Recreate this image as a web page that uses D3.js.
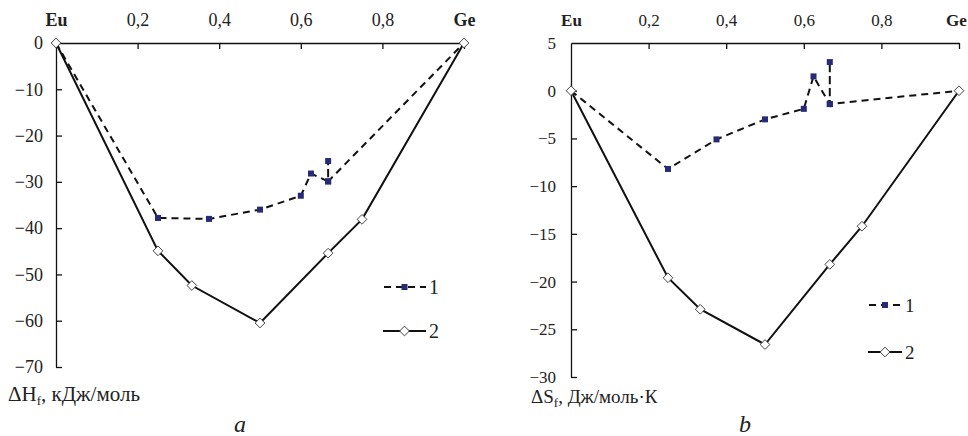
<!DOCTYPE html>
<html>
<head>
  <meta charset="utf-8">
  <script src="https://d3js.org/d3.v7.min.js"></script>
  <style>
    body { margin: 0; background: #fff; }
    svg { display: block; font-family: "Liberation Serif", "Times New Roman", serif; }
    .axis path, .axis line { stroke: #111; stroke-width: 1.3; }
    .axis text { fill: #222; }
  </style>
</head>
<body>
<svg id="chart" width="968" height="436"></svg>
<script>
  // x tick labels (mole fraction Ge)
  const xTicks = [0, 0.2, 0.4, 0.6, 0.8, 1];
  const xTickLabels = ["Eu", "0,2", "0,4", "0,6", "0,8", "Ge"];

  // panel a: enthalpy of formation, kJ/mol
  // series 1 visits x=0.667 twice to draw the short vertical branch
  const dh1 = [[0, 0], [0.25, -37.8], [0.375, -38.0], [0.5, -36.0], [0.6, -33.0], [0.625, -28.2],
               [0.667, -29.9], [0.667, -25.5], [0.667, -29.9], [1, 0]];
  const dh2 = [[0, 0], [0.25, -44.9], [0.333, -52.4], [0.5, -60.5], [0.667, -45.4], [0.75, -38.1], [1, 0]];
  const dhTicks = [0, -10, -20, -30, -40, -50, -60, -70];

  // panel b: entropy of formation, J/mol K
  const ds1 = [[0, 0], [0.25, -8.2], [0.375, -5.1], [0.5, -3.0], [0.6, -1.9], [0.625, 1.5],
               [0.667, -1.4], [0.667, 3.0], [0.667, -1.4], [1, 0]];
  const ds2 = [[0, 0], [0.25, -19.6], [0.333, -22.9], [0.5, -26.6], [0.667, -18.2], [0.75, -14.2], [1, 0]];
  const dsTicks = [5, 0, -5, -10, -15, -20, -25, -30];

  const svg = d3.select("#chart");
  const navy = "#262b78";
  const serif = "'Liberation Serif', 'Times New Roman', serif";

  function panel(cfg) {
    const x = d3.scaleLinear().domain([0, 1]).range(cfg.xr);
    const y = d3.scaleLinear().domain(cfg.yd).range(cfg.yr);
    const g = svg.append("g");

    // top axis, ticks pointing in
    const xa = g.append("g").attr("class", "axis")
      .attr("transform", `translate(0,${cfg.yr[1]})`)
      .call(d3.axisTop(x).tickValues(xTicks).tickSizeInner(-6).tickSizeOuter(0).tickPadding(17)
        .tickFormat((d, i) => xTickLabels[i]));
    xa.attr("font-family", serif).attr("font-size", cfg.fs);
    xa.selectAll("text")
      .attr("font-weight", (d, i) => (i === 0 || i === 5) ? "bold" : null)
      .attr("dx", (d, i) => i === 5 ? cfg.geDx : 0);
    xa.selectAll(".tick").filter(d => d === 0).select("line").remove();

    const ya = g.append("g").attr("class", "axis")
      .attr("transform", `translate(${cfg.xr[0]},0)`)
      .call(d3.axisLeft(y).tickValues(cfg.yt).tickSizeInner(-6).tickSizeOuter(0).tickPadding(cfg.pad)
        .tickFormat(d3.format("d")));
    ya.attr("font-family", serif).attr("font-size", cfg.fs);
    ya.selectAll(".tick").filter(d => d === cfg.yd[1]).select("line").remove();

    const line = d3.line().x(d => x(d[0])).y(d => y(d[1]));

    g.append("path").datum(cfg.s1).attr("d", line)
      .attr("fill", "none").attr("stroke", "#111").attr("stroke-width", 2).attr("stroke-dasharray", "7,5");
    g.append("path").datum(cfg.s2).attr("d", line)
      .attr("fill", "none").attr("stroke", "#111").attr("stroke-width", 2);

    g.selectAll(".sq").data(cfg.s1.slice(1, -1)).join("rect")
      .attr("x", d => x(d[0]) - 3).attr("y", d => y(d[1]) - 3)
      .attr("width", 6).attr("height", 6).attr("fill", navy);

    const diamond = d3.symbol().type(d3.symbolDiamond2).size(60);
    g.selectAll(".dm").data(cfg.s2).join("path")
      .attr("d", diamond)
      .attr("transform", d => `translate(${x(d[0])},${y(d[1])})`)
      .attr("fill", "#fff").attr("stroke", "#444").attr("stroke-width", 1);

    // legend
    const lg = g.append("g");
    const [lx0, lx1] = cfg.lx;
    lg.append("line").attr("x1", lx0).attr("x2", lx1).attr("y1", cfg.ly[0]).attr("y2", cfg.ly[0])
      .attr("stroke", "#111").attr("stroke-width", 2).attr("stroke-dasharray", "7,5")
      .attr("stroke-dashoffset", -1);
    lg.append("rect").attr("x", (lx0 + lx1) / 2 - 3).attr("y", cfg.ly[0] - 3)
      .attr("width", 6).attr("height", 6).attr("fill", navy);
    lg.append("line").attr("x1", lx0).attr("x2", lx1).attr("y1", cfg.ly[1]).attr("y2", cfg.ly[1])
      .attr("stroke", "#111").attr("stroke-width", 2);
    lg.append("path").attr("d", diamond)
      .attr("transform", `translate(${(lx0 + lx1) / 2},${cfg.ly[1]})`)
      .attr("fill", "#fff").attr("stroke", "#444");
    ["1", "2"].forEach((t, i) => {
      lg.append("text").attr("x", lx1 + 3).attr("y", cfg.ly[i]).attr("dy", "0.35em")
        .attr("font-size", cfg.fs + 2).attr("fill", "#222").text(t);
    });

    // quantity label
    const ql = g.append("text").attr("x", cfg.qx).attr("y", cfg.qy)
      .attr("font-size", cfg.qfs).attr("fill", "#222");
    ql.append("tspan").text(cfg.q[0]);
    ql.append("tspan").attr("font-size", 13).attr("dy", 4).text("f");
    ql.append("tspan").attr("dy", -4).text(cfg.q[1]);

    g.append("text").attr("x", cfg.px).attr("y", 432).attr("text-anchor", "middle")
      .attr("font-size", 24).attr("font-style", "italic").attr("fill", "#222").text(cfg.panel);
  }

  panel({ xr: [56, 464], yd: [-70, 0], yr: [367, 43], yt: dhTicks, s1: dh1, s2: dh2, fs: 18, pad: 13,
          lx: [383, 426], ly: [287, 331], q: ["ΔH", ", кДж/моль"], qx: 8, qy: 401, qfs: 21,
          px: 240, panel: "a", geDx: 0 });
  panel({ xr: [571, 959], yd: [-30, 5], yr: [377, 43], yt: dsTicks, s1: ds1, s2: ds2, fs: 17, pad: 15,
          lx: [868, 902], ly: [305, 352], q: ["ΔS", ",  Дж/моль·К"], qx: 531, qy: 403, qfs: 19,
          px: 745, panel: "b", geDx: -3 });
</script>
</body>
</html>
